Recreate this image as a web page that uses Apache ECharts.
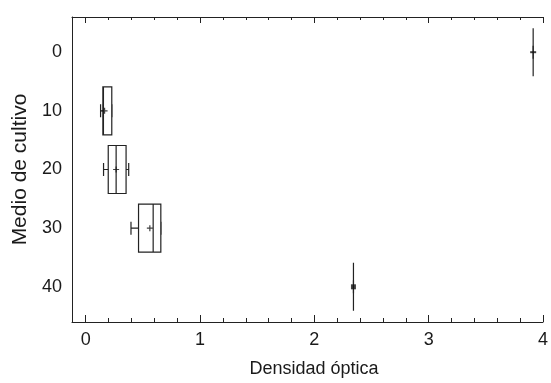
<!DOCTYPE html>
<html>
<head>
<meta charset="utf-8">
<script src="https://cdn.jsdelivr.net/npm/echarts@6/dist/echarts.min.js"></script>
<style>html,body{margin:0;padding:0;background:#fff}#c{width:551px;height:383px}</style>
</head>
<body>
<div id="c"></div>
<script>
// Data
var categories = [0, 10, 20, 30, 40];
var whiskerLow  = [3.914, 0.130, 0.156, 0.396, 2.342];
var q1          = [3.914, 0.150, 0.197, 0.462, 2.342];
var median      = [3.914, 0.155, 0.266, 0.590, 2.342];
var q3          = [3.914, 0.228, 0.353, 0.657, 2.342];
var whiskerHigh = [3.914, 0.228, 0.376, 0.657, 2.342];
var means       = [3.914, 0.165, 0.266, 0.561, 2.342];
var xMajorTicks = [0, 1, 2, 3, 4];
var xMinorTicks = [0.2, 0.4, 0.6, 0.8, 1.2, 1.4, 1.6, 1.8, 2.2, 2.4, 2.6, 2.8, 3.2, 3.4, 3.6, 3.8];
var yTickLabels = [0, 10, 20, 30, 40];

var ink = '#1a1a1a';
var lineCol = '#222';
var font = "'Liberation Sans', Arial, sans-serif";
var X_MIN = -0.12, X_MAX = 4, Y_MIN = -6, Y_MAX = 46;

var boxData = categories.map(function (c, i) {
  return [c, q1[i], q1[i], median[i], q3[i], q3[i]];
});
var whiskerData = categories.map(function (c, i) {
  return [c, whiskerLow[i], median[i], median[i], median[i], whiskerHigh[i]];
});
var meanSymbols = ['path://M0,0H6V2H0Z', 'path://M0,2H5V3H0Z M2,0H3V5H2Z', 'path://M0,2H5V3H0Z M2,0H3V5H2Z', 'path://M0,2H5V3H0Z M2,0H3V5H2Z', 'rect'];
var meanSizes = [[6, 2], [6, 6], [6, 6], [6, 6], [5, 5]];
var meanData = categories.map(function (c, i) {
  return { value: [means[i], c], symbol: meanSymbols[i], symbolSize: meanSizes[i] };
});

function xAxisBase(pos) {
  return { type: 'value', position: pos, min: X_MIN, max: X_MAX, splitLine: { show: false } };
}

var option = {
  animation: false,
  backgroundColor: '#fff',
  grid: { left: 72, right: 3, top: 17, bottom: 55 },
  xAxis: [
    Object.assign(xAxisBase('bottom'), {
      axisLine: { show: true, onZero: false, lineStyle: { color: lineCol, width: 1 } },
      axisTick: { show: true, inside: true, length: 7, customValues: xMajorTicks, lineStyle: { color: lineCol } },
      axisLabel: { show: true, customValues: xMajorTicks, color: ink, fontFamily: font, fontSize: 18, margin: 9 },
      name: 'Densidad óptica', nameLocation: 'middle', nameGap: 38,
      nameTextStyle: { color: ink, fontFamily: font, fontSize: 18, padding: [0, 0, 0, 13] }
    }),
    Object.assign(xAxisBase('bottom'), {
      axisLine: { show: false, onZero: false },
      axisTick: { show: true, inside: true, length: 4, customValues: xMinorTicks, lineStyle: { color: lineCol } },
      axisLabel: { show: false }
    }),
    Object.assign(xAxisBase('top'), {
      axisLine: { show: true, onZero: false, lineStyle: { color: lineCol, width: 1 } },
      axisTick: { show: true, inside: true, length: 6, customValues: xMajorTicks, lineStyle: { color: lineCol } },
      axisLabel: { show: false }
    }),
    Object.assign(xAxisBase('top'), {
      axisLine: { show: false, onZero: false },
      axisTick: { show: true, inside: true, length: 3, customValues: xMinorTicks, lineStyle: { color: lineCol } },
      axisLabel: { show: false }
    })
  ],
  yAxis: [
    {
      type: 'value', position: 'left', min: Y_MIN, max: Y_MAX, inverse: true,
      splitLine: { show: false },
      axisLine: { show: true, onZero: false, lineStyle: { color: lineCol, width: 1 } },
      axisTick: { show: false },
      axisLabel: { show: true, customValues: yTickLabels, color: ink, fontFamily: font, fontSize: 18, margin: 10 },
      name: 'Medio de cultivo', nameLocation: 'middle', nameGap: 37,
      nameTextStyle: { color: ink, fontFamily: font, fontSize: 21 }
    },
    {
      type: 'value', position: 'right', min: Y_MIN, max: Y_MAX, inverse: true, show: false
    }
  ],
  series: [
    {
      type: 'boxplot', name: 'whiskers', layout: 'vertical',
      xAxisIndex: 0, yAxisIndex: 1,
      boxWidth: [13, 13], z: 2, silent: true,
      itemStyle: { color: 'rgba(0,0,0,0)', borderColor: lineCol, borderWidth: 1.2 },
      emphasis: { disabled: true },
      data: whiskerData
    },
    {
      type: 'boxplot', name: 'boxes', layout: 'vertical',
      xAxisIndex: 0, yAxisIndex: 0,
      boxWidth: [48, 48], z: 3, silent: true,
      itemStyle: { color: '#fff', borderColor: lineCol, borderWidth: 1.2 },
      emphasis: { disabled: true },
      data: boxData
    },
    {
      type: 'scatter', name: 'mean', xAxisIndex: 0, yAxisIndex: 0, z: 5, silent: true,
      itemStyle: { color: '#111' },
      data: meanData
    }
  ]
};

var chart = echarts.init(document.getElementById('c'), null, { renderer: 'canvas' });
chart.setOption(option);
</script>
</body>
</html>
